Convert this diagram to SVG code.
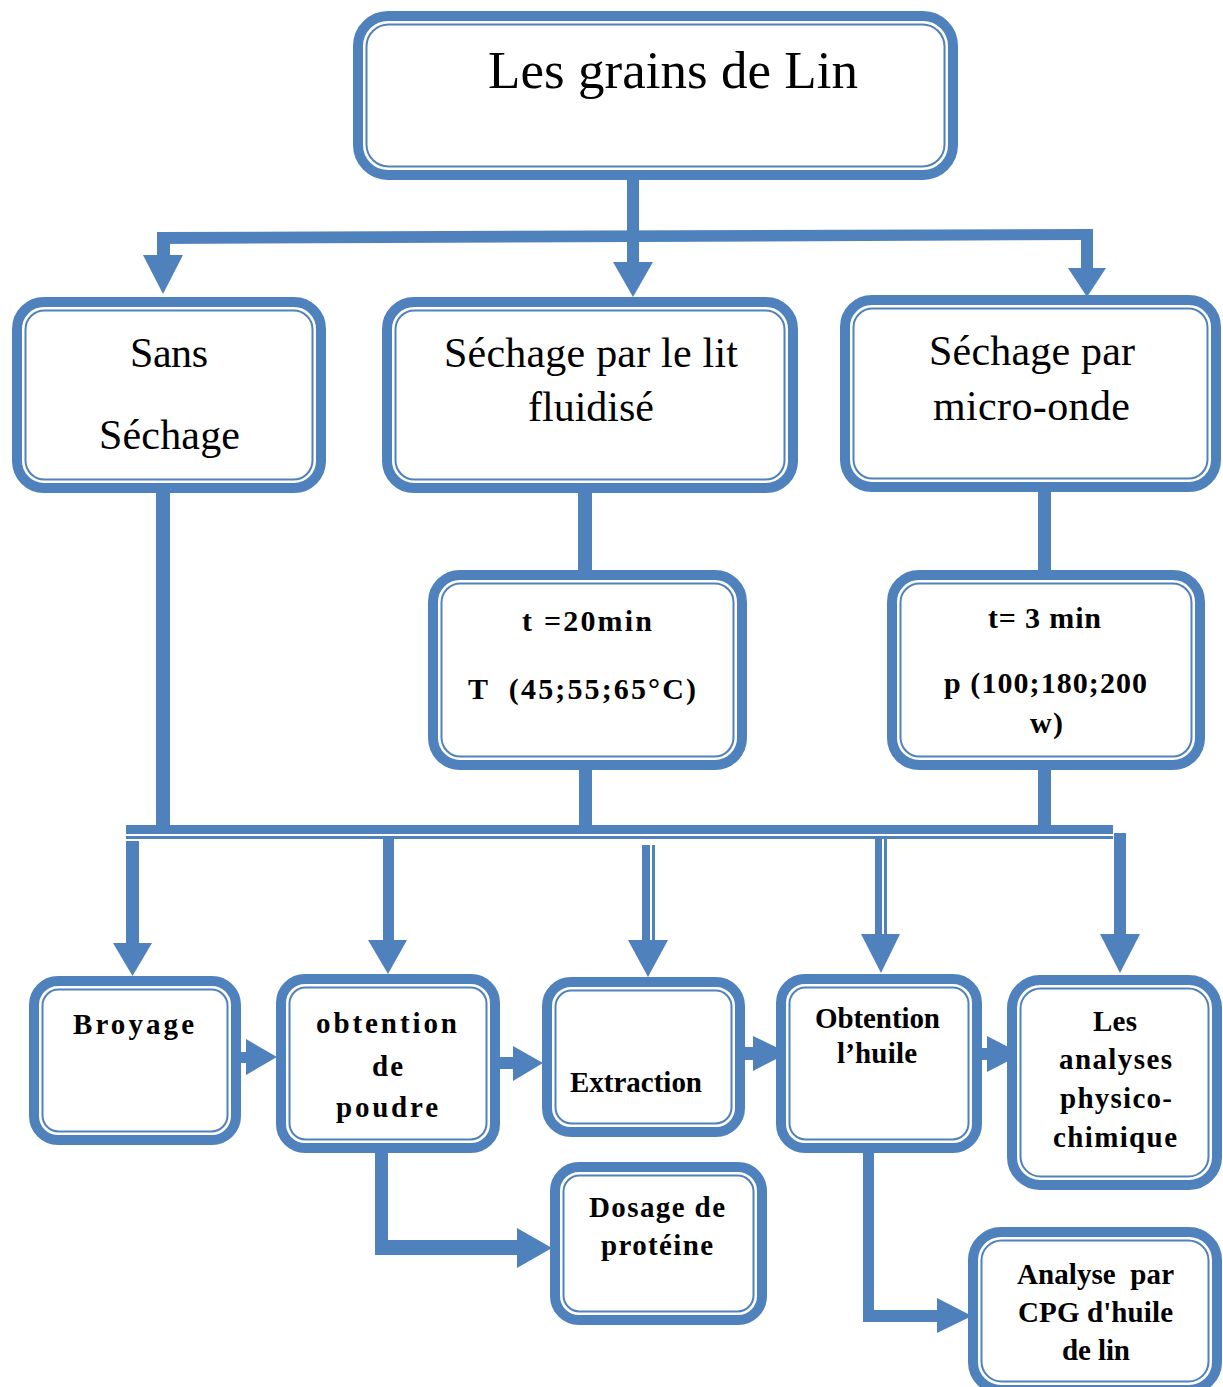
<svg xmlns="http://www.w3.org/2000/svg" width="1223" height="1387" viewBox="0 0 1223 1387">
<style>
.o{fill:#fff;stroke:#4f81bd;stroke-width:10}
.i{fill:none;stroke:#4f81bd;stroke-width:2}
.c{fill:#4f81bd;stroke:none}
.r{font-family:"Liberation Serif","Times New Roman",serif;font-size:42px;fill:#000}
.b{font-family:"Liberation Serif","Times New Roman",serif;font-weight:bold;fill:#000}
.b3{font-size:30px}
.b4{font-size:29px}
</style>
<rect width="1223" height="1387" fill="#fff"/>
<g id="connectors">
  <rect class="c" x="627" y="178" width="12" height="84"/>
  <polygon class="c" points="613,262 653,262 633,297"/>
  <polygon class="c" points="158,232 1087,229 1087,240 158,244"/>
  <rect class="c" x="157" y="232" width="13" height="23"/>
  <polygon class="c" points="143,255 183,255 163,294"/>
  <rect class="c" x="1081" y="229" width="12" height="39"/>
  <polygon class="c" points="1068,268 1106,268 1087,297"/>
  <rect class="c" x="156" y="490" width="14" height="338"/>
  <rect class="c" x="578" y="490" width="14" height="84"/>
  <rect class="c" x="579" y="768" width="13" height="57"/>
  <rect class="c" x="1038" y="490" width="13" height="84"/>
  <rect class="c" x="1038" y="768" width="13" height="57"/>
  <rect class="c" x="126" y="825" width="987" height="9"/>
  <rect class="c" x="126" y="836" width="987" height="3"/>
  <rect class="c" x="126" y="841" width="13" height="103"/>
  <polygon class="c" points="113,943 152,943 132.5,976"/>
  <rect class="c" x="383" y="839" width="11" height="102"/>
  <polygon class="c" points="368,940 407,940 388,974"/>
  <rect class="c" x="642" y="845" width="8" height="96"/>
  <rect class="c" x="652" y="845" width="3" height="96"/>
  <polygon class="c" points="628,940 668,940 648,977"/>
  <rect class="c" x="875" y="839" width="7" height="96"/>
  <rect class="c" x="884" y="839" width="3" height="96"/>
  <polygon class="c" points="861,934 900,934 881,973"/>
  <rect class="c" x="1114" y="833" width="12" height="102"/>
  <polygon class="c" points="1100,934 1140,934 1120,973"/>
  <rect class="c" x="239" y="1052" width="9" height="11"/>
  <polygon class="c" points="246,1039 246,1075 277,1057"/>
  <rect class="c" x="498" y="1057" width="16" height="12"/>
  <polygon class="c" points="513,1046 513,1081 543,1063"/>
  <rect class="c" x="743" y="1047" width="11" height="13"/>
  <polygon class="c" points="753,1036 753,1071 788,1053"/>
  <rect class="c" x="980" y="1048" width="8" height="12"/>
  <polygon class="c" points="987,1036 987,1072 1022,1054"/>
  <polygon class="c" points="375,1150 388,1150 388,1240 518,1240 518,1255 375,1255"/>
  <polygon class="c" points="517,1228 517,1268 552,1248"/>
  <polygon class="c" points="863,1150 874,1150 874,1310 938,1310 938,1322 863,1322"/>
  <polygon class="c" points="937,1298 937,1333 972,1316"/>
</g>
<g id="n_grains">
  <rect class="o" x="358" y="16" width="595" height="159" rx="30"/>
  <rect class="i" x="366.5" y="24.5" width="578" height="142" rx="22"/>
  <text class="r" x="488" y="88" style="font-size:53px" textLength="370" lengthAdjust="spacing">Les grains de Lin</text>
</g>
<g id="n_sans">
  <rect class="o" x="17" y="302" width="304" height="186" rx="27"/>
  <rect class="i" x="25.5" y="310.5" width="287" height="169" rx="19"/>
  <text class="r" x="130" y="367" textLength="78" lengthAdjust="spacing">Sans</text>
  <text class="r" x="99" y="449" textLength="141" lengthAdjust="spacing">Séchage</text>
</g>
<g id="n_lit">
  <rect class="o" x="387" y="302" width="406" height="186" rx="27"/>
  <rect class="i" x="395.5" y="310.5" width="389" height="169" rx="19"/>
  <text class="r" x="444" y="367" textLength="294" lengthAdjust="spacing">Séchage par le lit</text>
  <text class="r" x="528" y="421" textLength="126" lengthAdjust="spacing">fluidisé</text>
</g>
<g id="n_micro">
  <rect class="o" x="845" y="300" width="371" height="187" rx="27"/>
  <rect class="i" x="853.5" y="308.5" width="354" height="170" rx="19"/>
  <text class="r" x="929" y="365" textLength="206" lengthAdjust="spacing">Séchage par</text>
  <text class="r" x="933" y="420" textLength="197" lengthAdjust="spacing">micro-onde</text>
</g>
<g id="n_t20">
  <rect class="o" x="433" y="575" width="309" height="190" rx="27"/>
  <rect class="i" x="441.5" y="583.5" width="292" height="173" rx="19"/>
  <text class="b b3" x="522" y="631" textLength="130" lengthAdjust="spacing">t =20min</text>
  <text class="b b3" x="468" y="699" textLength="228" lengthAdjust="spacing" xml:space="preserve">T  (45;55;65°C)</text>
</g>
<g id="n_t3">
  <rect class="o" x="892" y="575" width="308" height="190" rx="27"/>
  <rect class="i" x="900.5" y="583.5" width="291" height="173" rx="19"/>
  <text class="b b3" x="988" y="628" textLength="113" lengthAdjust="spacing">t= 3 min</text>
  <text class="b b3" x="944" y="693" textLength="203" lengthAdjust="spacing">p (100;180;200</text>
  <text class="b b3" x="1030" y="733" textLength="33" lengthAdjust="spacing">w)</text>
</g>
<g id="n_broyage">
  <rect class="o" x="34" y="981" width="202" height="159" rx="24"/>
  <rect class="i" x="42.5" y="989.5" width="185" height="142" rx="16"/>
  <text class="b b4" x="73" y="1034" textLength="121" lengthAdjust="spacing">Broyage</text>
</g>
<g id="n_poudre">
  <rect class="o" x="281" y="979" width="214" height="169" rx="24"/>
  <rect class="i" x="289.5" y="987.5" width="197" height="152" rx="16"/>
  <text class="b b4" x="316" y="1033" textLength="141" lengthAdjust="spacing">obtention</text>
  <text class="b b4" x="372" y="1076" textLength="31" lengthAdjust="spacing">de</text>
  <text class="b b4" x="336" y="1117" textLength="102" lengthAdjust="spacing">poudre</text>
</g>
<g id="n_extraction">
  <rect class="o" x="547" y="982" width="193" height="150" rx="24"/>
  <rect class="i" x="555.5" y="990.5" width="176" height="133" rx="16"/>
  <text class="b b4" x="570" y="1092" textLength="132" lengthAdjust="spacing">Extraction</text>
</g>
<g id="n_huile">
  <rect class="o" x="781" y="979" width="196" height="169" rx="24"/>
  <rect class="i" x="789.5" y="987.5" width="179" height="152" rx="16"/>
  <text class="b b4" x="815" y="1028" textLength="125" lengthAdjust="spacing">Obtention</text>
  <text class="b b4" x="837" y="1063" textLength="80" lengthAdjust="spacing">l’huile</text>
</g>
<g id="n_analyses">
  <rect class="o" x="1012" y="980" width="205" height="205" rx="28"/>
  <rect class="i" x="1020.5" y="988.5" width="188" height="188" rx="20"/>
  <text class="b b4" x="1093" y="1031" textLength="44" lengthAdjust="spacing">Les</text>
  <text class="b b4" x="1059" y="1069" textLength="113" lengthAdjust="spacing">analyses</text>
  <text class="b b4" x="1060" y="1108" textLength="112" lengthAdjust="spacing">physico-</text>
  <text class="b b4" x="1053" y="1147" textLength="124" lengthAdjust="spacing">chimique</text>
</g>
<g id="n_dosage">
  <rect class="o" x="555" y="1167" width="207" height="153" rx="24"/>
  <rect class="i" x="563.5" y="1175.5" width="190" height="136" rx="16"/>
  <text class="b b4" x="589" y="1217" textLength="136" lengthAdjust="spacing">Dosage de</text>
  <text class="b b4" x="601" y="1255" textLength="112" lengthAdjust="spacing">protéine</text>
</g>
<g id="n_cpg">
  <rect class="o" x="973" y="1232" width="244" height="158" rx="28"/>
  <rect class="i" x="981.5" y="1240.5" width="227" height="141" rx="20"/>
  <text class="b b4" x="1017" y="1284" textLength="157" lengthAdjust="spacing" xml:space="preserve">Analyse  par</text>
  <text class="b b4" x="1018" y="1322" textLength="155" lengthAdjust="spacing">CPG d'huile</text>
  <text class="b b4" x="1062" y="1360" textLength="68" lengthAdjust="spacing">de lin</text>
</g>
</svg>
